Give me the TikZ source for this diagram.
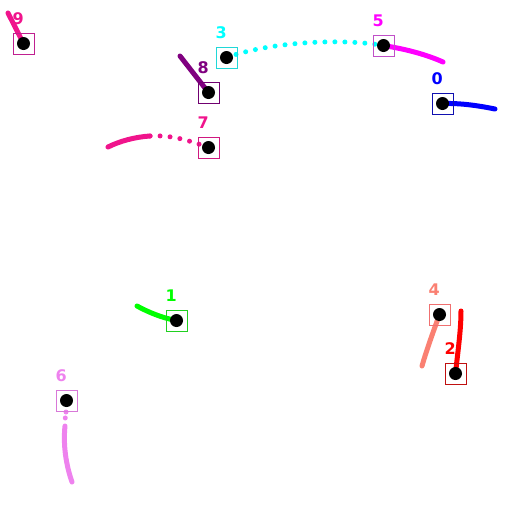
\documentclass[tikz,border=0pt]{standalone}
\usepackage{fontspec}
\setsansfont{DejaVu Sans}
\usetikzlibrary{positioning}
\definecolor{kp0}{HTML}{0000FF}
\definecolor{kp1}{HTML}{00FF00}
\definecolor{kp2}{HTML}{FF0000}
\definecolor{kp3}{HTML}{00FFFF}
\definecolor{kp4}{HTML}{FA8072}
\definecolor{kp5}{HTML}{FF00FF}
\definecolor{kp6}{HTML}{EE82EE}
\definecolor{kp7}{HTML}{F0148C}
\definecolor{kp8}{HTML}{800080}
\definecolor{kp9}{HTML}{F0148C}
% box outlines
\definecolor{bx0}{HTML}{1010B0}
\definecolor{bx1}{HTML}{20D020}
\definecolor{bx2}{HTML}{C01010}
\definecolor{bx3}{HTML}{20D8D8}
\definecolor{bx4}{HTML}{F07070}
\definecolor{bx5}{HTML}{C050C8}
\definecolor{bx6}{HTML}{D878D8}
\definecolor{bx7}{HTML}{D01880}
\definecolor{bx8}{HTML}{700070}
\definecolor{bx9}{HTML}{C02090}

\begin{document}
\begin{tikzpicture}[x=1pt, y=-1pt,
    dot/.style={circle, fill=black, inner sep=0pt, minimum size=13pt},
    kpbox/.style={rectangle, draw=#1, line width=1pt, inner sep=0pt, minimum size=21pt},
    lbl/.style={text=#1, inner sep=0pt, font=\sffamily\bfseries\fontsize{16}{16}\selectfont},
    trail/.style={draw=#1, line width=5pt, line cap=round, line join=round},
    dots/.style={draw=#1, line width=5pt, line cap=round, dash pattern=on 0pt off 10pt}
]
\useasboundingbox (0,0) rectangle (512,512);

% keypoint positions
\coordinate (p0) at (442.5,103.5);
\coordinate (p1) at (176.5,320.5);
\coordinate (p2) at (455.5,373.5);
\coordinate (p3) at (226.5,57.5);
\coordinate (p4) at (439.5,314.5);
\coordinate (p5) at (383.5,45.5);
\coordinate (p6) at (66.5,400.5);
\coordinate (p7) at (208.5,147.5);
\coordinate (p8) at (208.5,92.5);
\coordinate (p9) at (23.5,43.5);

% trail ends
\coordinate (t0) at (495,109);
\coordinate (t1) at (137,306);
\coordinate (t2) at (461,311);
\coordinate (t4) at (422,366);
\coordinate (t5) at (443,62);
\coordinate (t6) at (72,482);
\coordinate (t7) at (108,147);
\coordinate (t8) at (180,56);
\coordinate (t9) at (8,13);

% trails
\draw[trail=kp9] (p9) -- (t9);
\draw[trail=kp8] (p8) -- (t8);
\draw[trail=kp5] (p5) .. controls (405,49) and (425,54) .. (t5);
\draw[trail=kp0] (p0) .. controls (462,103) and (480,106) .. (t0);
\draw[trail=kp1] (p1) .. controls (162,318) and (148,312) .. (t1);
\draw[trail=kp4] (p4) .. controls (432,335) and (426,352) .. (t4);
\draw[trail=kp2] (p2) .. controls (458,350) and (461,330) .. (t2);
\draw[dots=kp3] (p3) .. controls (270,42) and (340,38) .. (p5);
\draw[dots=kp7] (p7) .. controls (185,139) and (170,135) .. (150,136);
\draw[trail=kp7] (150,136) .. controls (135,137) and (120,141) .. (t7);
\draw[dots=kp6, dash pattern=on 0pt off 6pt] (66,412) -- (65,420);
\draw[trail=kp6] (65,426) .. controls (63,445) and (66,465) .. (t6);

% keypoints
\foreach \i in {0,...,9} {
  \node[dot] (d\i) at (p\i) {};
  \node[kpbox=bx\i] (b\i) at (p\i) {};
  \node[lbl=kp\i, above right=8pt and 0pt of b\i.north west] (l\i) {\i};
}
\end{tikzpicture}
\end{document}
